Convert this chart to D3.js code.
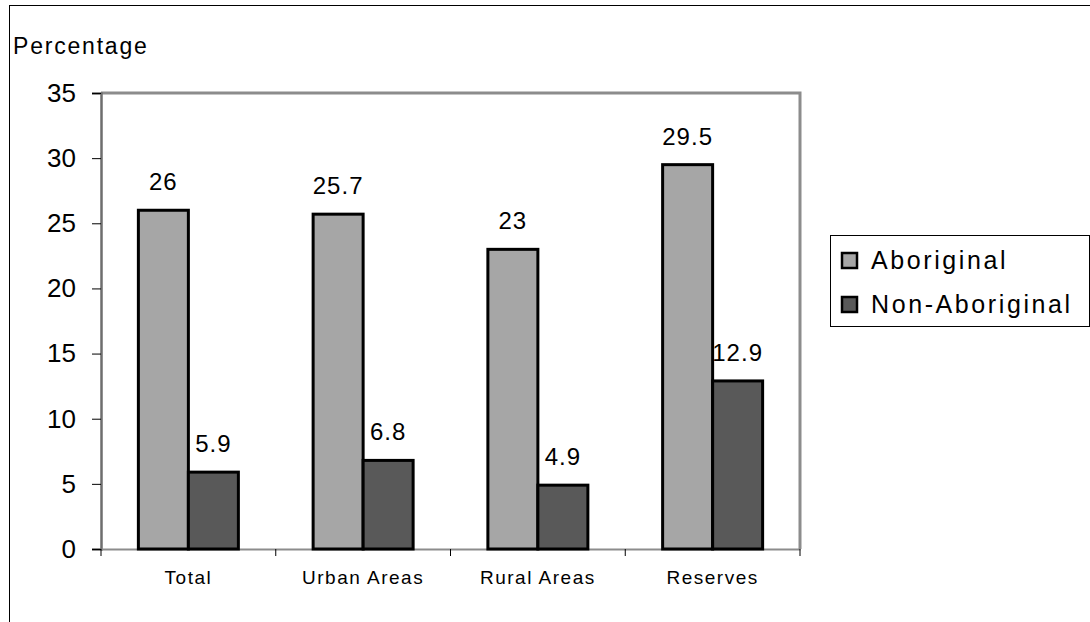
<!DOCTYPE html>
<html>
<head>
<meta charset="utf-8">
<script src="https://cdn.jsdelivr.net/npm/d3@7"></script>
<style>
  body { margin: 0; background: #fff; }
  text { font-family: "Liberation Sans", Arial, sans-serif; fill: #000; }
</style>
</head>
<body>
<div id="chart"></div>
<script>
var width = 1090,
    height = 622,
    margin = {top: 93, right: 290, bottom: 73, left: 101};

var categories = ['Total', 'Urban Areas', 'Rural Areas', 'Reserves'],
    seriesNames = ['Aboriginal', 'Non-Aboriginal'],
    aboriginal = [26, 25.7, 23, 29.5],
    nonAboriginal = [5.9, 6.8, 4.9, 12.9],
    yTicks = [0, 5, 10, 15, 20, 25, 30, 35],
    colors = ['#a6a6a6', '#595959'];

var svg = d3.select('#chart')
    .append('svg')
    .attr('width', width)
    .attr('height', height);

// outer frame (runs off the right and bottom)
svg.append('rect')
    .attr('x', 9.5).attr('y', 5.5)
    .attr('width', width + 20).attr('height', height + 20)
    .attr('fill', 'none').attr('stroke', '#000').attr('stroke-width', 1);

var w = width - margin.left - margin.right,
    h = height - margin.top - margin.bottom;

var graph = svg.append('g')
    .attr('transform', 'translate(' + margin.left + ',' + margin.top + ')');

var x0 = d3.scaleBand().domain(categories).range([0, w]).paddingInner(0).paddingOuter(0),
    y = d3.scaleLinear().domain([0, 35]).range([h, 0]);

var groupW = 100;
var x1 = d3.scaleBand().domain(seriesNames)
    .range([(x0.bandwidth() - groupW) / 2, (x0.bandwidth() + groupW) / 2]);

// plot frame: top and right in grey
graph.append('path')
    .attr('d', 'M0,0H' + w + 'V' + h)
    .attr('fill', 'none').attr('stroke', '#8c8c8c').attr('stroke-width', 3);

// y axis
var yAxis = d3.axisLeft(y).tickValues(yTicks).tickSize(9).tickPadding(16);
var yg = graph.append('g').call(yAxis);
yg.select('.domain').attr('stroke', '#6e6e6e').attr('stroke-width', 2.5);
yg.selectAll('.tick line').attr('stroke', '#000');
yg.selectAll('.tick text').style('font-size', '26px').attr('fill', '#000');

// x axis
var xAxis = d3.axisBottom(x0).tickSize(0).tickPadding(22);
var xg = graph.append('g').attr('transform', 'translate(0,' + h + ')').call(xAxis);
xg.select('.domain').attr('stroke', '#8c8c8c').attr('stroke-width', 2);
xg.selectAll('.tick text').style('font-size', '19px').style('letter-spacing', '1.5px').attr('fill', '#000');

// x boundary ticks
var bounds = d3.range(categories.length + 1).map(function(i) {
    return i < categories.length ? x0(categories[i]) : w;
});
graph.append('g').selectAll('line')
    .data(bounds)
    .enter().append('line')
    .attr('x1', function(d) { return d; })
    .attr('x2', function(d) { return d; })
    .attr('y1', h).attr('y2', h + 7)
    .attr('stroke', '#000').attr('stroke-width', 1);

var rows = categories.map(function(c, i) {
    return {cat: c, values: [aboriginal[i], nonAboriginal[i]]};
});

var groups = graph.selectAll('.grp')
    .data(rows)
    .enter().append('g')
    .attr('class', 'grp')
    .attr('transform', function(d) { return 'translate(' + x0(d.cat) + ',0)'; });

var bars = groups.selectAll('g.bar')
    .data(function(d) {
        return d.values.map(function(v, j) { return {name: seriesNames[j], value: v, j: j}; });
    })
    .enter().append('g').attr('class', 'bar');

bars.append('rect')
    .attr('x', function(d) { return x1(d.name); })
    .attr('y', function(d) { return y(d.value); })
    .attr('width', x1.bandwidth())
    .attr('height', function(d) { return h - y(d.value); })
    .attr('fill', function(d) { return colors[d.j]; })
    .attr('stroke', '#000')
    .attr('stroke-width', 3);

bars.append('text')
    .attr('x', function(d) { return x1(d.name) + x1.bandwidth() / 2; })
    .attr('y', function(d) { return y(d.value) - 20; })
    .attr('text-anchor', 'middle')
    .style('font-size', '24px')
    .style('letter-spacing', '1px')
    .text(function(d) { return d.value; });

// y title
svg.append('text')
    .attr('x', 13).attr('y', 54)
    .style('font-size', '23px')
    .style('letter-spacing', '1.8px')
    .text('Percentage');

// legend
var legend = svg.append('g').attr('transform', 'translate(830,235)');
legend.append('rect')
    .attr('x', 0.5).attr('y', 0.5)
    .attr('width', 259).attr('height', 91)
    .attr('fill', '#fff').attr('stroke', '#000');

var li = legend.selectAll('.li')
    .data(seriesNames)
    .enter().append('g')
    .attr('transform', function(d, i) { return 'translate(12,' + (18 + i * 44) + ')'; });

li.append('rect')
    .attr('x', 0).attr('y', 0)
    .attr('width', 15).attr('height', 15)
    .attr('fill', function(d, i) { return colors[i]; })
    .attr('stroke', '#000').attr('stroke-width', 2.5);

li.append('text')
    .attr('x', 29).attr('y', 16)
    .style('font-size', '25px')
    .style('letter-spacing', '2.6px')
    .text(function(d) { return d; });
</script>
</body>
</html>
